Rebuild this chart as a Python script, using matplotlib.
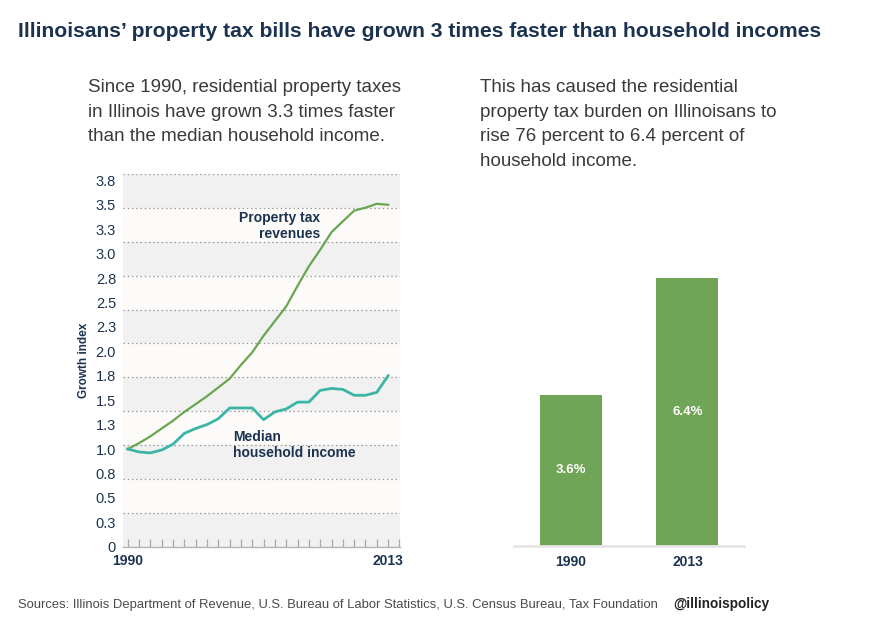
import matplotlib.pyplot as plt
import numpy as np

# data
years = list(range(1990, 2014))
property_tax = [1.00, 1.06, 1.13, 1.21, 1.29, 1.38, 1.46, 1.54, 1.63, 1.72, 1.86, 1.99,
                2.16, 2.31, 2.46, 2.67, 2.87, 3.04, 3.22, 3.33, 3.44, 3.47, 3.51, 3.50]
median_income = [1.00, 0.97, 0.96, 0.99, 1.05, 1.16, 1.21, 1.25, 1.31, 1.42, 1.42, 1.42,
                 1.30, 1.38, 1.41, 1.48, 1.48, 1.60, 1.62, 1.61, 1.55, 1.55, 1.58, 1.75]
ytick_values = [0, 0.25, 0.5, 0.75, 1.0, 1.25, 1.5, 1.75, 2.0, 2.25, 2.5, 2.75,
                3.0, 3.25, 3.5, 3.75]
ytick_labels = ['0', '0.3', '0.5', '0.8', '1.0', '1.3', '1.5', '1.8', '2.0', '2.3',
                '2.5', '2.8', '3.0', '3.3', '3.5', '3.8']

bar_labels = ['1990', '2013']
burden = [3.6, 6.4]
burden_text = ['3.6%', '6.4%']

title = "Illinoisans\u2019 property tax bills have grown 3 times faster than household incomes"
left_note = ["Since 1990, residential property taxes",
             "in Illinois have grown 3.3 times faster",
             "than the median household income."]
right_note = ["This has caused the residential",
              "property tax burden on Illinoisans to",
              "rise 76 percent to 6.4 percent of",
              "household income."]
sources = ("Sources: Illinois Department of Revenue, U.S. Bureau of Labor Statistics, "
           "U.S. Census Bureau, Tax Foundation")

NAVY = '#1c3350'
GREEN = '#6aa64f'
TEAL = '#3bb5a6'
BAR = '#70a557'

W, H = 878, 626
plt.rcParams['font.family'] = ['Liberation Sans', 'DejaVu Sans']

fig = plt.figure(figsize=(W / 100, H / 100), dpi=100)
fig.patch.set_facecolor('white')


def fx(px):
    return px / W


def fy(py):
    return 1 - py / H


# ---- line chart ----
ax = fig.add_axes([fx(123), fy(546.7), fx(400 - 123), (546.7 - 174) / H])
ytop = 3.815
ax.set_ylim(0, ytop)
ax.set_xlim(1989.58, 2014.05)
ax.set_facecolor('#fcfbf9')

edges = np.linspace(0, ytop, 12)
for k in range(11):
    if k % 2 == 0:
        ax.axhspan(edges[k], edges[k + 1], color='#f1f1f1', lw=0, zorder=0)
for e in edges[1:]:
    ax.axhline(e, color='#9a9a9a', lw=0.9, ls=(0, (1.2, 2.2)), zorder=1)

ax.plot(years, property_tax, color=GREEN, lw=1.6, zorder=3)
ax.plot(years, median_income, color=TEAL, lw=2.0, zorder=3)

for s in ['top', 'right', 'left']:
    ax.spines[s].set_visible(False)
ax.spines['bottom'].set_color('#b5b5b5')
ax.spines['bottom'].set_linewidth(1.0)

ax.set_yticks(ytick_values)
ax.set_yticklabels(ytick_labels)
ax.tick_params(axis='y', length=0, pad=5, labelsize=10.5, labelcolor=NAVY)

ax.set_xticks(range(1990, 2015))
ax.set_xticklabels([str(y) if y in (1990, 2013) else '' for y in range(1990, 2015)])
ax.tick_params(axis='x', direction='in', length=6, width=0.9, color='#a8a8a8',
               pad=5, labelsize=10, labelcolor=NAVY)
for lab in ax.get_xticklabels():
    lab.set_fontweight('bold')

ax.set_ylabel('Growth index', fontsize=8.5, fontweight='bold', color=NAVY, labelpad=4)

ax.text(2007.0, 3.28, 'Property tax\nrevenues', ha='right', va='center',
        multialignment='right', fontsize=10, fontweight='bold', color=NAVY, zorder=4)
ax.text(1999.3, 1.04, 'Median\nhousehold income', ha='left', va='center',
        fontsize=10, fontweight='bold', color=NAVY, zorder=4)

# ---- bar chart ----
ax2 = fig.add_axes([fx(514), fy(545.7), fx(744 - 514), 293 / H])
xpos = np.arange(len(bar_labels))
ax2.bar(xpos, burden, width=0.532, color=BAR, zorder=2)
ax2.set_xlim(-0.489, 1.485)
ax2.set_ylim(0, 7)
for s in ['top', 'right', 'left']:
    ax2.spines[s].set_visible(False)
ax2.spines['bottom'].set_color('#e6e6e6')
ax2.spines['bottom'].set_linewidth(2)
ax2.set_yticks([])
ax2.set_xticks(xpos)
ax2.set_xticklabels(bar_labels)
ax2.tick_params(axis='x', length=0, pad=7, labelsize=10, labelcolor=NAVY)
for lab in ax2.get_xticklabels():
    lab.set_fontweight('bold')
ax2.set_facecolor('none')
for xi, v, t in zip(xpos, burden, burden_text):
    ax2.text(xi, v / 2, t, ha='center', va='center', color='white',
             fontsize=9.5, fontweight='bold')

# ---- texts ----
fig.text(fx(18), fy(37), title, fontsize=15.2, fontweight='bold', color=NAVY,
         va='baseline')
for i, line in enumerate(left_note):
    fig.text(fx(88), fy(92 + 24.5 * i), line, fontsize=13.5, color='#3a3a3a',
             va='baseline')
for i, line in enumerate(right_note):
    fig.text(fx(480), fy(92 + 24.5 * i), line, fontsize=13.5, color='#3a3a3a',
             va='baseline')
fig.text(fx(18), fy(608), sources, fontsize=9.35, color='#4a4a4a', va='baseline')
fig.text(fx(673), fy(608), '@illinoispolicy', fontsize=9.8, fontweight='bold',
         color='#222222', va='baseline')

fig.savefig('out.png', dpi=100, facecolor='white')
